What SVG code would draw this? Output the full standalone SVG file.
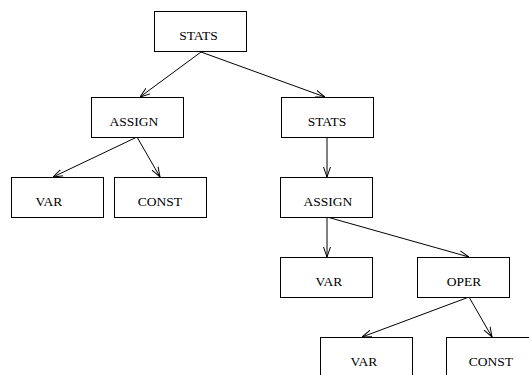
<svg xmlns="http://www.w3.org/2000/svg" width="529" height="375" viewBox="0 0 529 375">
<defs>
<marker id="arr" viewBox="0 0 10 10" refX="10" refY="5" markerWidth="10" markerHeight="10" markerUnits="userSpaceOnUse" orient="auto">
<path d="M0,1.5 L10,5 L0,8.5" fill="none" stroke="#000" stroke-width="1"/>
</marker>
</defs>
<style>
rect{fill:#fff;stroke:#000;stroke-width:1}
text{font-family:"Liberation Serif","Times New Roman",serif;font-size:13.5px;fill:#000;text-anchor:middle}
.e line{stroke:#000;stroke-width:1;marker-end:url(#arr)}
</style>
<g class="e" id="connectors">
<line x1="201" y1="52" x2="140" y2="97"/>
<line x1="201" y1="52" x2="325" y2="97"/>
<line x1="137" y1="137" x2="53" y2="177"/>
<line x1="137" y1="137" x2="160" y2="177"/>
<line x1="327" y1="137" x2="327" y2="177"/>
<line x1="327" y1="217" x2="327" y2="257"/>
<line x1="327" y1="217" x2="469" y2="257"/>
<line x1="469" y1="297" x2="362" y2="337"/>
<line x1="469" y1="297" x2="492" y2="337"/>
</g>
<g id="n1"><rect x="154.5" y="11.5" width="92" height="40"/><text x="198.5" y="40">STATS</text></g>
<g id="n2"><rect x="91.5" y="97.5" width="92" height="40"/><text x="134" y="126">ASSIGN</text></g>
<g id="n3"><rect x="281.5" y="97.5" width="92" height="40"/><text x="327" y="126">STATS</text></g>
<g id="n4"><rect x="11.5" y="177.5" width="92" height="40"/><text x="49" y="206">VAR</text></g>
<g id="n5"><rect x="114.5" y="177.5" width="92" height="40"/><text x="160" y="206">CONST</text></g>
<g id="n6"><rect x="280.5" y="177.5" width="92" height="40"/><text x="328" y="206">ASSIGN</text></g>
<g id="n7"><rect x="280.5" y="257.5" width="92" height="40"/><text x="329" y="286">VAR</text></g>
<g id="n8"><rect x="417.5" y="257.5" width="92" height="40"/><text x="464" y="286">OPER</text></g>
<g id="n9"><rect x="320.5" y="337.5" width="92" height="40"/><text x="364" y="366">VAR</text></g>
<g id="n10"><rect x="446.5" y="337.5" width="92" height="40"/><text x="491" y="366">CONST</text></g>
</svg>
